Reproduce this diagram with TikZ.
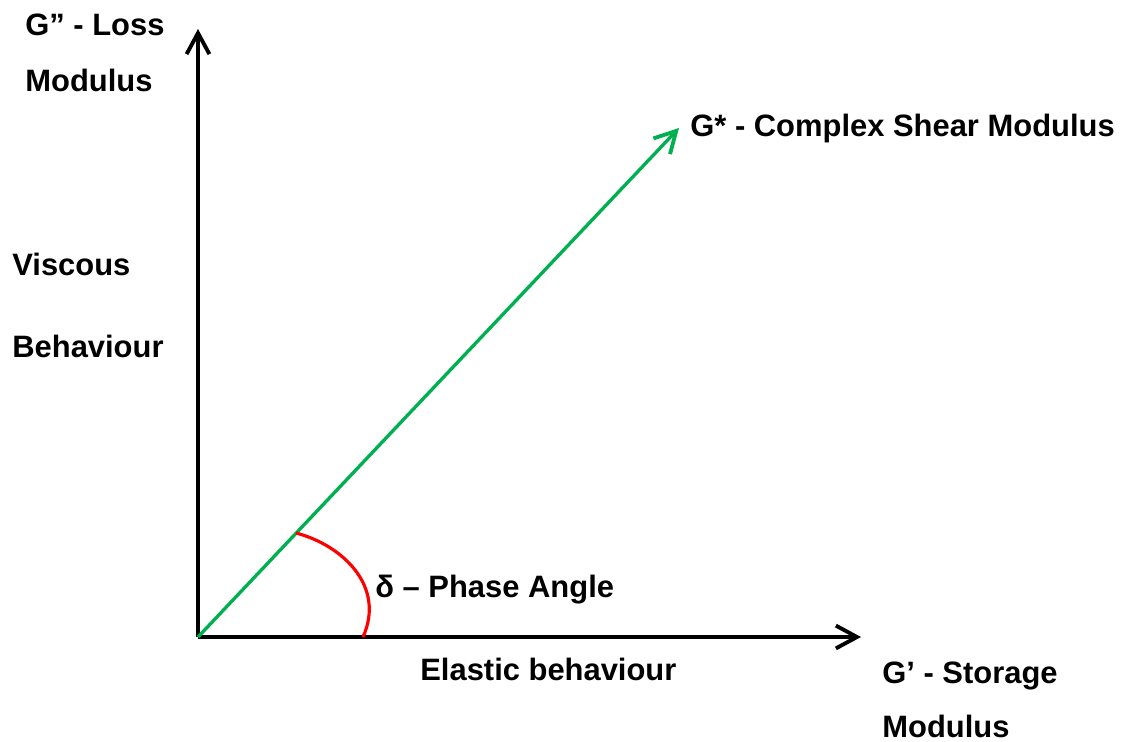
\documentclass[tikz,border=0pt]{standalone}
\usepackage{fontspec}
\setmainfont{Liberation Sans}
\usetikzlibrary{arrows.meta}
\definecolor{VecLine}{RGB}{0,176,80}
\definecolor{ArcLine}{RGB}{255,0,0}
\tikzset{
  % bold labels, placed by their baseline
  lbl/.style={anchor=base west, inner sep=0pt, font=\bfseries\fontsize{17.6}{21}\selectfont},
  axis/.style={line width=1.8pt, -{Straight Barb[length=12pt, width=13pt, line width=2.2pt]}},
  vec/.style={draw=VecLine, line width=1.9pt, -{Straight Barb[length=12pt, width=13pt, line width=2.2pt]}},
  angarc/.style={draw=ArcLine, line width=1.8pt}
}

\begin{document}
\begin{tikzpicture}[x=0.02cm, y=-0.02cm]
  \useasboundingbox (0,0) rectangle (1124,742);

  %% -- axes --------------------------------------------------------------
  \coordinate (O)    at (198,637);
  \coordinate (ytop) at (198,29);
  \coordinate (xend) at (861,637);
  \draw[axis] (O) -- (ytop);
  \draw[axis] (O) -- (xend);

  %% -- complex modulus vector and phase angle ----------------------------
  \coordinate (gend) at (679,128);
  \draw[vec] (O) -- (gend);

  \coordinate (arcA) at (296,533);
  \coordinate (arcB) at (363,637);
  \draw[angarc] (arcA) .. controls (342,545) and (386,586) .. (arcB);

  %% -- labels ------------------------------------------------------------
  \node[lbl] (loss1)  at (25,36)   {G” - Loss};
  \node[lbl] (loss2)  at (25,92)   {Modulus};
  \node[lbl] (gstar)  at (690,137) {G* - Complex Shear Modulus};
  \node[lbl] (visc1)  at (12,276)  {Viscous};
  \node[lbl] (visc2)  at (12,358)  {Behaviour};
  \node[lbl] (delta)  at (375,597) {δ – Phase Angle};
  \node[lbl] (elast)  at (420,680) {Elastic behaviour};
  \node[lbl] (store1) at (882,683) {G’ - Storage};
  \node[lbl] (store2) at (882,737) {Modulus};

\end{tikzpicture}
\end{document}
